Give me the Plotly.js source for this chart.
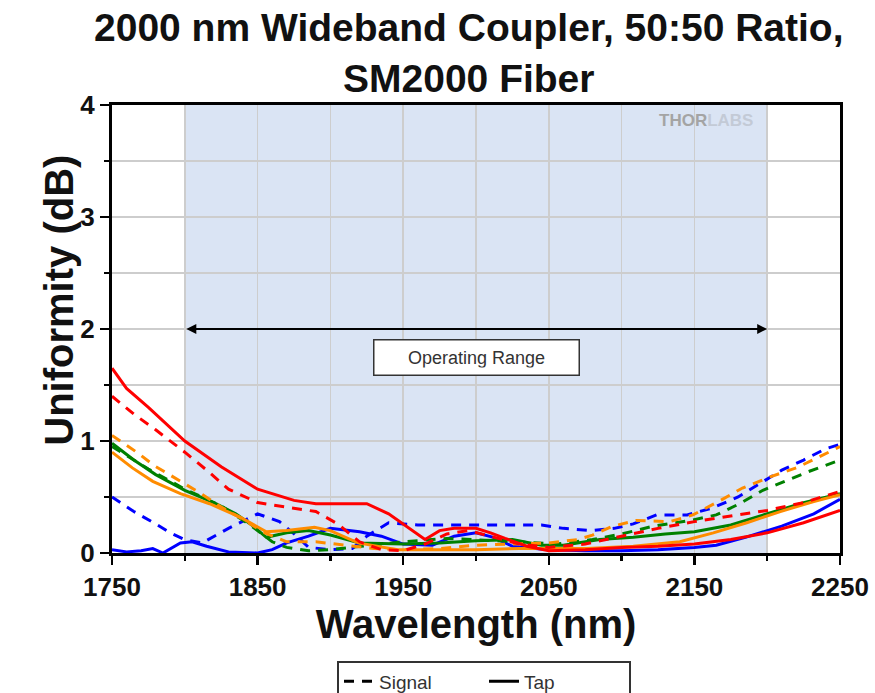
<!DOCTYPE html>
<html>
<head>
<meta charset="utf-8">
<script src="https://cdn.plot.ly/plotly-3.0.1.min.js"></script>
<style>html,body{margin:0;padding:0;background:#fff;}#chart{width:875px;height:693px;}</style>
</head>
<body>
<div id="chart"></div>
<script>
// ---- data ----
var redTapX = [1750,1760,1775,1800,1825,1850,1875,1890,1900,1925,1940,1953,1965,1975,1985,2000,2010,2020,2035,2050,2075,2100,2125,2150,2175,2200,2225,2250];
var redTapY = [1.65,1.47,1.30,1.00,0.77,0.57,0.47,0.44,0.44,0.44,0.35,0.23,0.12,0.20,0.22,0.22,0.18,0.13,0.06,0.02,0.03,0.05,0.06,0.08,0.12,0.18,0.27,0.38];

var redSigX = [1750,1765,1780,1800,1815,1830,1850,1870,1890,1905,1920,1935,1950,1965,1980,1995,2010,2030,2050,2075,2100,2125,2150,2175,2200,2225,2250];
var redSigY = [1.40,1.24,1.10,0.90,0.74,0.57,0.45,0.41,0.37,0.26,0.10,0.03,0.02,0.08,0.17,0.20,0.15,0.08,0.05,0.08,0.15,0.22,0.28,0.33,0.38,0.45,0.55];

var blueTapX = [1750,1760,1770,1778,1785,1797,1805,1815,1830,1850,1860,1870,1885,1900,1920,1935,1950,1970,1985,2000,2012,2025,2050,2075,2100,2125,2150,2165,2185,2200,2210,2232,2250];
var blueTapY = [0.03,0.01,0.02,0.04,0.00,0.09,0.10,0.06,0.01,0.00,0.03,0.09,0.15,0.22,0.19,0.15,0.08,0.07,0.15,0.18,0.14,0.06,0.03,0.02,0.02,0.03,0.05,0.07,0.14,0.20,0.24,0.35,0.48];

var blueSigX = [1750,1765,1780,1790,1800,1812,1830,1850,1865,1877,1885,1900,1915,1925,1940,1960,1990,2020,2045,2060,2080,2095,2108,2124,2145,2162,2180,2195,2210,2225,2240,2250];
var blueSigY = [0.50,0.37,0.26,0.18,0.12,0.09,0.22,0.35,0.28,0.15,0.05,0.03,0.04,0.15,0.27,0.25,0.25,0.25,0.25,0.22,0.20,0.22,0.26,0.34,0.34,0.40,0.50,0.62,0.74,0.83,0.93,0.97];

var greenTapX = [1750,1765,1780,1800,1820,1835,1846,1856,1870,1885,1900,1920,1950,1975,2000,2025,2045,2060,2085,2108,2130,2150,2175,2200,2225,2250];
var greenTapY = [0.98,0.83,0.70,0.56,0.45,0.35,0.25,0.14,0.18,0.20,0.16,0.09,0.08,0.09,0.11,0.12,0.07,0.07,0.12,0.14,0.17,0.19,0.25,0.35,0.45,0.53];

var greenSigX = [1750,1775,1800,1825,1845,1860,1870,1885,1900,1920,1950,1980,2000,2030,2055,2080,2100,2122,2147,2165,2181,2197,2214,2229,2250];
var greenSigY = [0.95,0.75,0.57,0.42,0.25,0.10,0.05,0.02,0.03,0.06,0.10,0.13,0.12,0.10,0.08,0.12,0.17,0.24,0.29,0.34,0.44,0.56,0.65,0.73,0.83];

var orangeTapX = [1750,1764,1778,1797,1817,1838,1856,1870,1889,1900,1919,1946,1975,2000,2030,2076,2108,2117,2140,2163,2186,2209,2232,2250];
var orangeTapY = [0.90,0.76,0.64,0.53,0.44,0.32,0.19,0.20,0.23,0.20,0.09,0.03,0.03,0.03,0.04,0.04,0.06,0.07,0.10,0.18,0.27,0.37,0.46,0.52];

var orangeSigX = [1750,1767,1779,1793,1810,1825,1840,1855,1870,1890,1910,1930,1950,1975,2000,2025,2050,2070,2080,2094,2110,2133,2149,2168,2183,2202,2220,2236,2250];
var orangeSigY = [1.05,0.90,0.78,0.67,0.54,0.41,0.30,0.18,0.10,0.10,0.07,0.04,0.03,0.04,0.07,0.08,0.09,0.12,0.16,0.24,0.29,0.28,0.34,0.47,0.58,0.68,0.76,0.86,0.95];

var legendNames = ['Signal', 'Tap'];
var bandRange = [1800, 2200];
var xTitle = 'Wavelength (nm)';
var yTitle = 'Uniformity (dB)';
var chartTitle = '2000 nm Wideband Coupler, 50:50 Ratio,<br>SM2000 Fiber';

// ---- styles ----
var FONT = 'Liberation Sans, Arial, sans-serif';
var DASH = '10px,8px';
function tr(x, y, color, dashed) {
  return {x: x, y: y, type: 'scatter', mode: 'lines', showlegend: false, hoverinfo: 'skip',
          line: {color: color, width: 3, dash: dashed ? DASH : 'solid'}};
}
var BLUE = '#0000ff', GREEN = '#008000', ORANGE = '#ff8c00', RED = '#ff0000';
var data = [
  tr(blueSigX, blueSigY, BLUE, true), tr(blueTapX, blueTapY, BLUE, false),
  tr(greenSigX, greenSigY, GREEN, true), tr(greenTapX, greenTapY, GREEN, false),
  tr(orangeSigX, orangeSigY, ORANGE, true), tr(orangeTapX, orangeTapY, ORANGE, false),
  tr(redSigX, redSigY, RED, true), tr(redTapX, redTapY, RED, false),
  {x: [null], y: [null], type: 'scatter', mode: 'lines', name: legendNames[0], showlegend: true,
   line: {color: '#000', width: 3, dash: DASH}},
  {x: [null], y: [null], type: 'scatter', mode: 'lines', name: legendNames[1], showlegend: true,
   line: {color: '#000', width: 3}}
];

var GRID = '#cdcdcd';
var axisCommon = {
  showline: true, linecolor: '#000', linewidth: 3, mirror: true,
  ticks: 'outside', ticklen: 9, tickwidth: 2.5, tickcolor: '#000',
  showgrid: true, gridcolor: GRID, gridwidth: 1.5, zeroline: false,
  tickfont: {family: FONT, size: 26, weight: 'bold', color: '#111'}
};

var layout = {
  width: 875, height: 693,
  margin: {l: 112, r: 35, t: 105, b: 140, autoexpand: false},
  paper_bgcolor: '#fff', plot_bgcolor: '#fff',
  font: {family: FONT, color: '#111'},
  xaxis: Object.assign({}, axisCommon, {
    range: [1750, 2250], tick0: 1750, dtick: 100, automargin: false,
    minor: {tick0: 1750, dtick: 50, showgrid: true, gridcolor: GRID, gridwidth: 1.5, ticks: 'outside', ticklen: 5, tickwidth: 2.5, tickcolor: '#000'},
    title: {text: xTitle, standoff: 8, font: {family: FONT, size: 40, weight: 'bold', color: '#111'}}
  }),
  yaxis: Object.assign({}, axisCommon, {
    range: [0, 4], tick0: 0, dtick: 1, automargin: false,
    minor: {tick0: 0, dtick: 0.5, showgrid: true, gridcolor: GRID, gridwidth: 1.5, ticks: 'outside', ticklen: 5, tickwidth: 2.5, tickcolor: '#000'}
  }),
  shapes: [
    {type: 'rect', xref: 'x', yref: 'y', x0: bandRange[0], x1: bandRange[1], y0: 0, y1: 4,
     fillcolor: '#dae4f4', line: {width: 0}, layer: 'below'}
  ],
  annotations: [
    {x: 0.49, y: 1.225, xref: 'paper', yref: 'paper', xanchor: 'center', yanchor: 'top',
     text: '<b>' + chartTitle + '</b>', showarrow: false,
     font: {family: FONT, size: 39, color: '#111'}},
    {x: bandRange[1], y: 2, ax: bandRange[0], ay: 2, xref: 'x', yref: 'y', axref: 'x', ayref: 'y',
     text: '', showarrow: true, arrowhead: 2, startarrowhead: 2, arrowside: 'end+start',
     arrowsize: 1, startarrowsize: 1, arrowwidth: 2, arrowcolor: '#000', standoff: 0, startstandoff: 0},
    {x: 2000, y: 1.75, xref: 'x', yref: 'y', text: 'Operating Range', showarrow: false,
     font: {family: FONT, size: 18, color: '#333'}, bgcolor: '#fff', bordercolor: '#333', borderwidth: 1.5,
     borderpad: 7, width: 190},
    {x: 2158, y: 3.86, xref: 'x', yref: 'y', showarrow: false,
     text: '<b>THOR</b><b><span style="color:#c3cad6">LABS</span></b>',
     font: {family: FONT, size: 17, color: '#a4a4a4'}},
    {x: -0.106, y: 0.565, xref: 'paper', yref: 'paper', text: '<b>' + yTitle + '</b>', textangle: -90,
     showarrow: false, font: {family: FONT, size: 40, color: '#111'}}
  ],
  legend: {orientation: 'h', x: 0.511, xanchor: 'center', y: -0.24, yanchor: 'top',
           bordercolor: '#333', borderwidth: 2, bgcolor: '#fff', entrywidth: 100,
           font: {family: FONT, size: 19, color: '#333'}}
};

Plotly.newPlot('chart', data, layout, {displayModeBar: false, staticPlot: true});
</script>
</body>
</html>
